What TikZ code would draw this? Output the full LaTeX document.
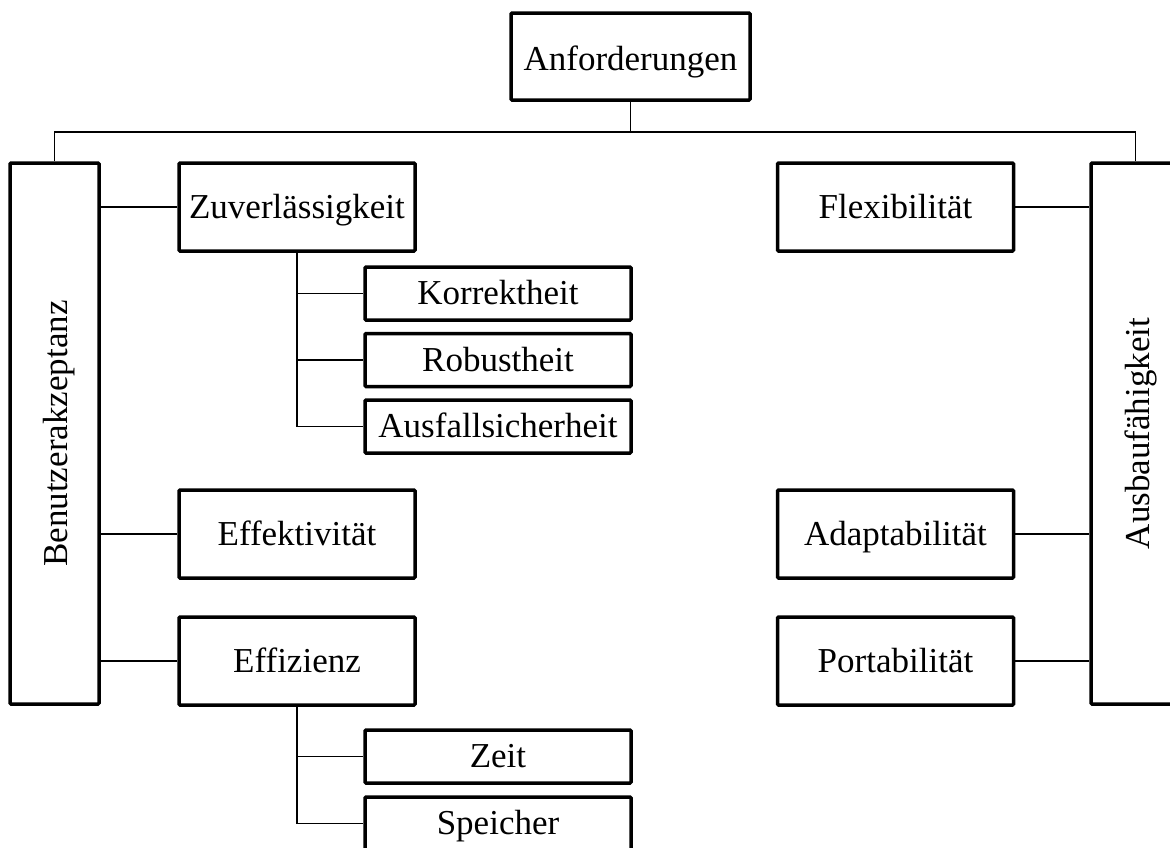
\documentclass[tikz,border=0pt]{standalone}
\usepackage{fontspec}
\setmainfont{Liberation Serif}
% upright label turned to read bottom-to-top, with a fixed baseline offset
\newcommand{\sidelabel}[1]{\rotatebox{90}{\rule[-1pt]{0pt}{29pt}\smash{#1}}}
\begin{document}
\begin{tikzpicture}[x=1pt,y=-1pt,
  box/.style={draw, line width=3.5pt, rounded corners=1pt, inner sep=0pt,
    fill=white, font=\fontsize{35}{42}\selectfont,
    text height=24pt, text depth=2pt},
  midbox/.style={box, minimum width=236pt, minimum height=88pt},
  subbox/.style={box, minimum width=266pt, minimum height=53pt},
  sidebox/.style={box, minimum width=89pt, minimum height=541pt,
    text height=, text depth=},
  link/.style={line width=1.2pt}]
\useasboundingbox (0,0) rectangle (1170,847);

% top node and the two main columns
\node[box, minimum width=239pt, minimum height=87pt, text height=28pt, text depth=1pt]
  (anf) at (630.5,56.5) {Anforderungen};
\node[sidebox] (ben) at (54.5,433.5) {\sidelabel{Benutzerakzeptanz}};
\node[sidebox] (aus) at (1135.5,433.5) {\sidelabel{Ausbaufähigkeit}};

% left branch
\node[midbox] (zuv) at (297,207) {Zuverlässigkeit};
\node[subbox] (kor) at (498,293.5) {Korrektheit};
\node[subbox] (rob) at (498,360) {Robustheit};
\node[subbox] (afs) at (498,426.5) {Ausfallsicherheit};
\node[midbox] (efk) at (297,534) {Effektivität};
\node[midbox] (efz) at (297,661) {Effizienz};
\node[subbox] (zeit) at (498,756.5) {Zeit};
\node[subbox] (spe) at (498,823.5) {Speicher};

% right branch
\node[midbox] (flx) at (895.5,207) {Flexibilität};
\node[midbox] (ada) at (895.5,534) {Adaptabilität};
\node[midbox] (por) at (895.5,661) {Portabilität};

% connectors
\coordinate (bus) at (630.5,132);
\begin{scope}[link]
\draw (anf) -- (bus);
\draw (bus) -| (ben);
\draw (bus) -| (aus);
\foreach \n in {zuv,efk,efz} \draw (\n.west) -- (\n.west -| ben.east);
\foreach \n in {flx,ada,por} \draw (\n.east) -- (\n.east -| aus.west);
\foreach \n in {kor,rob,afs} \draw (zuv.south) |- (\n.west);
\foreach \n in {zeit,spe} \draw (efz.south) |- (\n.west);
\end{scope}
\end{tikzpicture}
\end{document}
